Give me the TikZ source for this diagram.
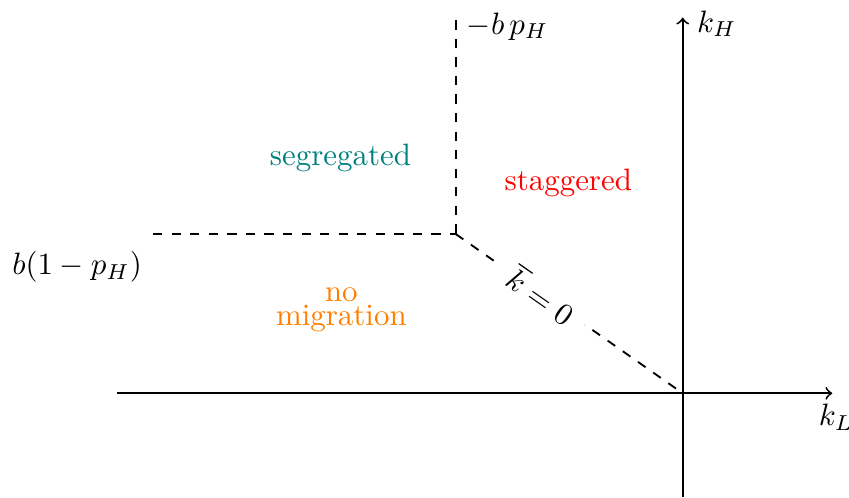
\documentclass[tikz,border=0pt]{standalone}
\usepackage{amsmath}
\usepackage{amssymb}
\usepackage{tikz}

\begin{document}
\begin{tikzpicture}[semithick]
      \useasboundingbox (-7.76,-1.18) rectangle (1.89,4.47);
      \coordinate (o) at (0,0); \coordinate (c) at (-2.58,1.81);
      \coordinate (xl) at (-6.43,0); \coordinate (xr) at (1.70,0);
      \coordinate (yb) at (0,-1.18); \coordinate (yt) at (0,4.27);
      \coordinate (ct) at (-2.58,4.24); \coordinate (cl) at (-6.02,1.81);
      \draw[->] (xl) -- (xr) node[below right,xshift=-8pt] {$k_L$};
      \draw[->] (yb) -- (yt) node[right,xshift=1pt,yshift=-2pt] {$k_H$};
      \draw[dashed] (cl) node[below left,yshift=-2pt] {$b(1-p_H)$} -- (c);
      \draw[dashed] (ct) node[right,yshift=-2pt] {$-b\,p_H$} -- (c);
      \draw[dashed] (c) -- node[pos=0.38,sloped,fill=white,inner sep=5pt] {$\overline{k}=0$} (o);
      \node[teal] (seg) at (-3.89,2.67) {segregated};
      \node[red] (stag) at (-1.30,2.39) {staggered};
      \node[orange,align=center,inner sep=0pt] (nomig) at (-3.88,0.95) {no\\[-4pt]migration};
    \end{tikzpicture}
\end{document}
